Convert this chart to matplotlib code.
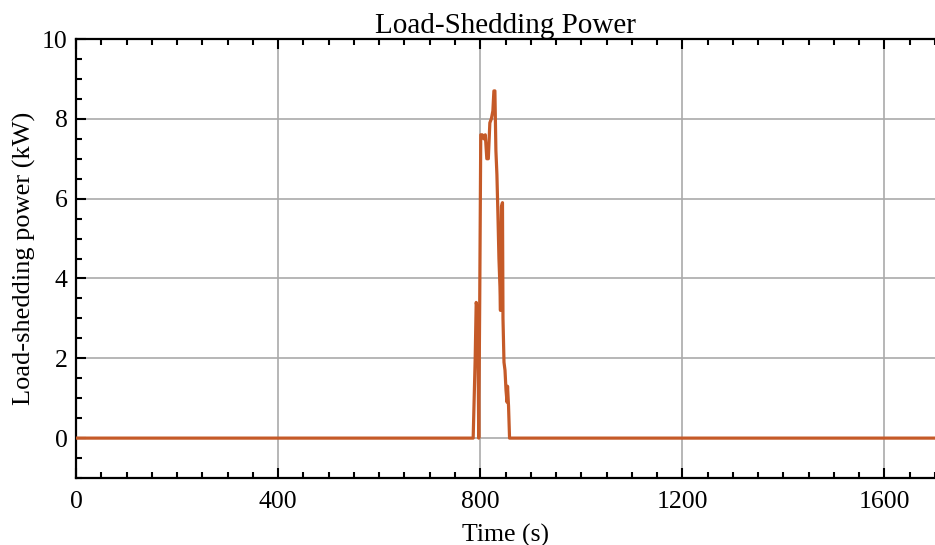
import matplotlib.pyplot as plt
import numpy as np
from matplotlib.ticker import MultipleLocator

plt.rcParams["font.family"] = ["Liberation Serif", "DejaVu Serif"]

# load-shedding event around t = 800 s
time_s = np.array([0, 786, 790, 792, 795, 797, 799, 801, 804, 807, 810, 813, 816,
                   819, 822, 825, 827, 829, 831, 833, 835, 837, 839, 840, 842, 844,
                   845, 847, 849, 851, 853, 854, 856, 858, 1700])
shed_kw = np.array([0, 0, 2.0, 3.4, 3.2, 0, 3.5, 7.6, 7.6, 7.5, 7.6, 7.0, 7.0,
                    7.9, 8.0, 8.2, 8.7, 8.7, 7.2, 6.6, 5.6, 4.5, 3.8, 3.2, 5.8, 5.9,
                    3.0, 1.9, 1.7, 1.2, 0.9, 1.3, 0.8, 0, 0])

x_ticks = [0, 400, 800, 1200, 1600]
y_ticks = [0, 2, 4, 6, 8, 10]

fig = plt.figure(figsize=(9.35, 5.45), dpi=100)
ax = fig.add_axes([0.0813, 0.1229, 0.9187, 0.8055])

ax.plot(time_s, shed_kw, color="#c55a28", lw=2.3, zorder=3)

ax.set_xlim(0, 1700)
ax.set_ylim(-1, 10)
ax.set_xticks(x_ticks)
ax.set_yticks(y_ticks)
ax.xaxis.set_minor_locator(MultipleLocator(50))
ax.yaxis.set_minor_locator(MultipleLocator(0.5))
ax.tick_params(which="both", direction="in", top=True, right=False, width=1.5,
               labelsize=18.5)
ax.tick_params(which="major", length=7)
ax.tick_params(which="minor", length=4)
ax.tick_params(axis="x", pad=9)
ax.tick_params(axis="y", pad=6)
ax.grid(True, which="major", color="#aaaaaa", lw=1.2)
ax.spines["right"].set_visible(False)
for s in ("left", "bottom", "top"):
    ax.spines[s].set_linewidth(1.6)

ax.set_title("Load-Shedding Power", fontsize=21, pad=3)
ax.set_xlabel("Time (s)", fontsize=18.5, labelpad=8)
ax.set_ylabel("Load-shedding power (kW)", fontsize=19, labelpad=4)

fig.savefig("out.png", dpi=100)
